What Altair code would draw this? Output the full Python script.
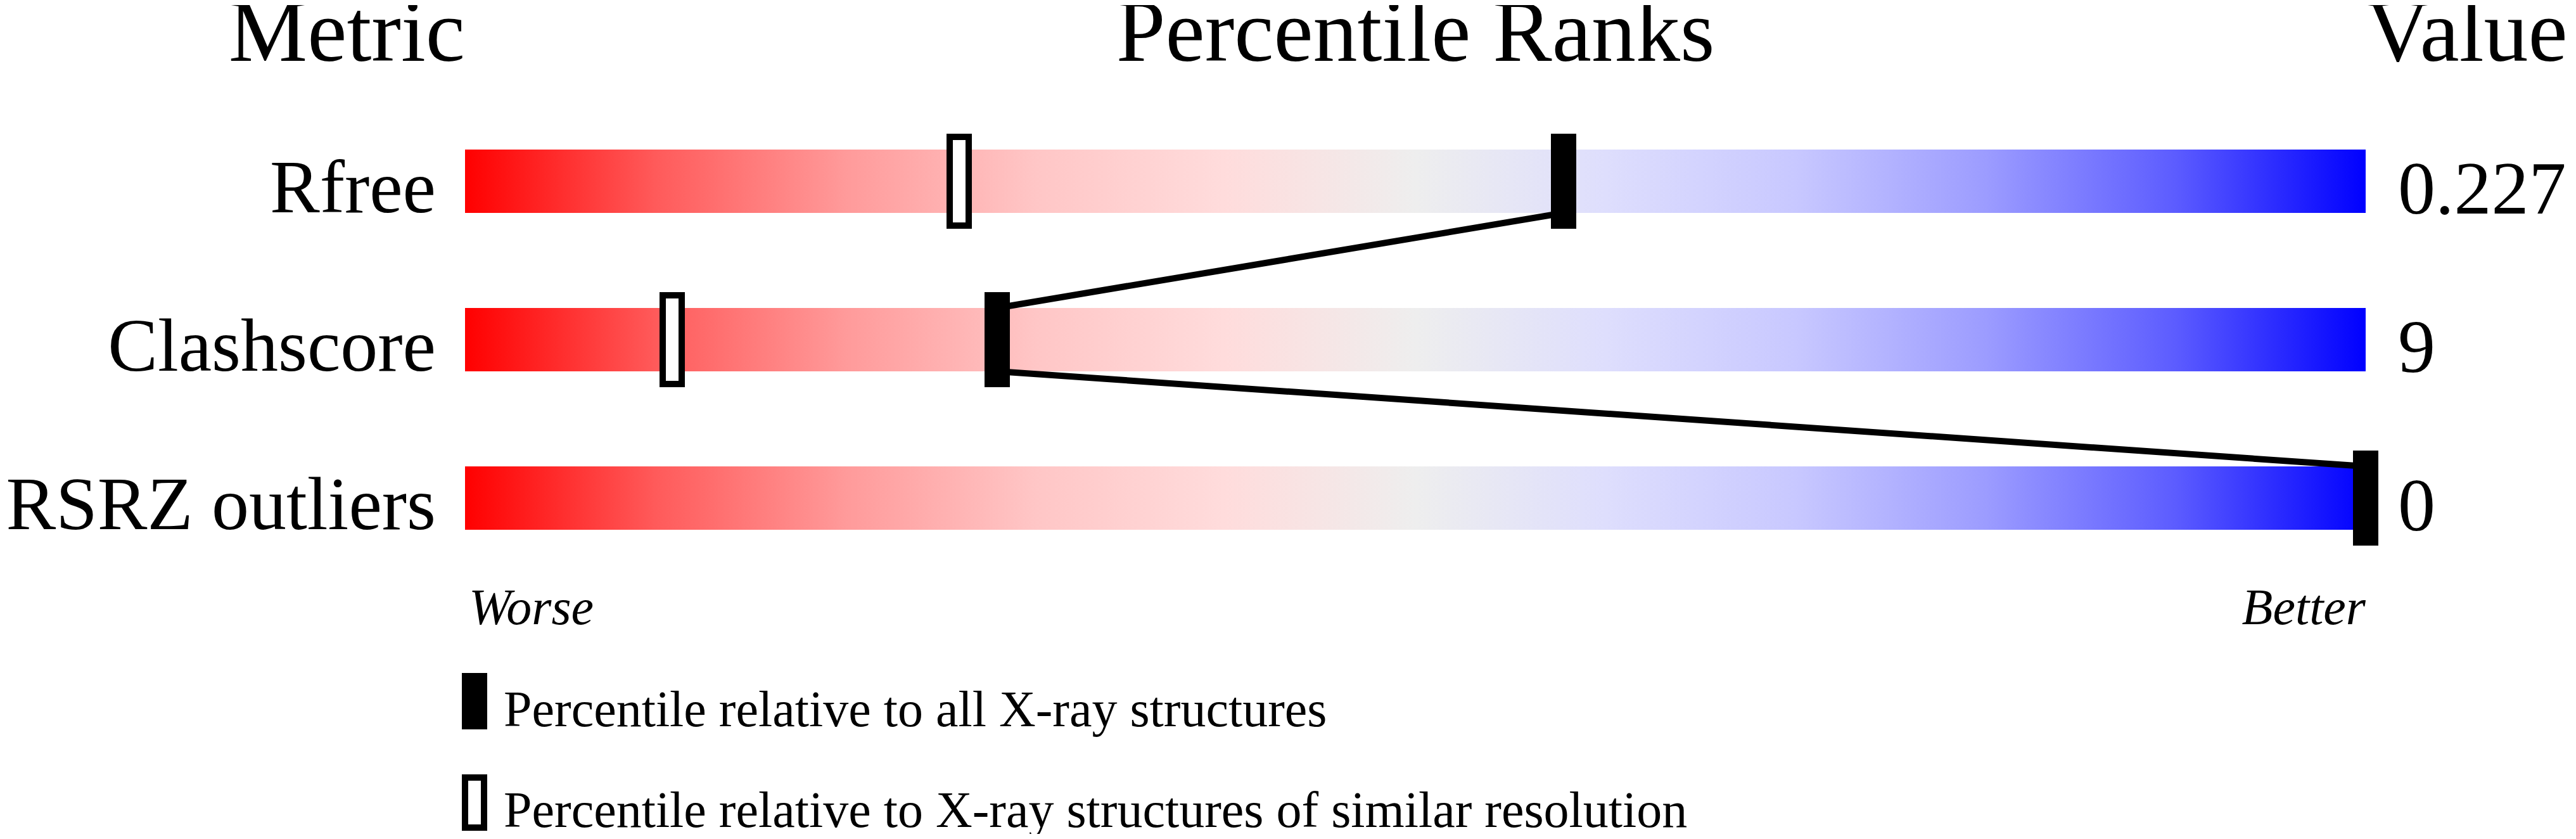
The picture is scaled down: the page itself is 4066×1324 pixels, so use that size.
import altair as alt
import pandas as pd

# ---- data ----
metrics = ["Rfree", "Clashscore", "RSRZ outliers"]
metric_values = ["0.227", "9", "0"]
pct_all = [57.8, 28.0, 100.0]          # percentile relative to all X-ray structures
pct_res = [26.0, 10.9, None]           # percentile relative to similar resolution
headers = ["Metric", "Percentile Ranks", "Value"]
end_labels = ["Worse", "Better"]
legend_labels = ["Percentile relative to all X-ray structures",
                 "Percentile relative to X-ray structures of similar resolution"]

FONT = "Liberation Serif"

rows = pd.DataFrame({
    "row": list(range(len(metrics))),
    "metric": metrics,
    "value": metric_values,
    "pct_all": pct_all,
    "pct_res": pct_res,
})
segs = pd.DataFrame({
    "row": list(range(len(metrics) - 1)),
    "xa": pct_all[:-1],
    "xb": pct_all[1:],
})

xscale = alt.Scale(domain=[0, 100], nice=False, zero=False)
yscale = alt.Scale(domain=[-0.5, len(metrics) - 0.5], nice=False, zero=False, reverse=True)

gradient = alt.LinearGradient(
    gradient="linear", x1=0, x2=1, y1=0, y2=0,
    stops=[
        alt.GradientStop(color="#ff0000", offset=0.0),
        alt.GradientStop(color="#ff5a5a", offset=0.1),
        alt.GradientStop(color="#ff9a9a", offset=0.2),
        alt.GradientStop(color="#ffc6c6", offset=0.3),
        alt.GradientStop(color="#ffdcdc", offset=0.4),
        alt.GradientStop(color="#eeeeee", offset=0.5),
        alt.GradientStop(color="#dedefd", offset=0.6),
        alt.GradientStop(color="#c8c8ff", offset=0.7),
        alt.GradientStop(color="#9c9cff", offset=0.8),
        alt.GradientStop(color="#5c5cff", offset=0.9),
        alt.GradientStop(color="#0000ff", offset=1.0),
    ],
)

base = alt.Chart(rows)

bars = base.mark_rect(color=gradient).transform_calculate(
    y0="datum.row - 0.2", y1="datum.row + 0.2"
).encode(
    x=alt.datum(0, scale=xscale, axis=None),
    x2=alt.datum(100),
    y=alt.Y("y0:Q", scale=yscale, axis=None),
    y2="y1:Q",
)

lines = alt.Chart(segs).mark_rule(color="black", strokeWidth=10).transform_calculate(
    ya="datum.row + 0.2", yb="datum.row + 0.8"
).encode(
    x=alt.X("xa:Q", scale=xscale, axis=None),
    x2="xb:Q",
    y=alt.Y("ya:Q", scale=yscale, axis=None),
    y2="yb:Q",
)

open_marks = base.transform_filter("isValid(datum.pct_res)").mark_tick(
    orient="vertical", fill="white", stroke="black", strokeWidth=10,
    size=140, thickness=30, opacity=1
).encode(
    x=alt.X("pct_res:Q", scale=xscale, axis=None),
    y=alt.Y("row:Q", scale=yscale, axis=None),
)

filled_marks = base.mark_tick(
    orient="vertical", color="black", size=150, thickness=40, opacity=1
).encode(
    x=alt.X("pct_all:Q", scale=xscale, axis=None),
    y=alt.Y("row:Q", scale=yscale, axis=None),
)

row_labels = base.mark_text(
    align="right", baseline="alphabetic", dy=49, fontSize=118, font=FONT, color="black"
).encode(
    x=alt.value(-46),
    y=alt.Y("row:Q", scale=yscale, axis=None),
    text="metric:N",
)

value_labels = base.mark_text(
    align="left", baseline="alphabetic", dx=51, dy=51, fontSize=118, font=FONT, color="black"
).encode(
    x=alt.datum(100),
    y=alt.Y("row:Q", scale=yscale, axis=None),
    text="value:N",
)

one = pd.DataFrame({"k": [0]})

h_metric = alt.Chart(one).mark_text(
    text=headers[0], align="right", baseline="alphabetic", fontSize=140, font=FONT, color="black"
).encode(x=alt.value(0), y=alt.value(-65))
h_pct = alt.Chart(one).mark_text(
    text=headers[1], align="center", baseline="alphabetic", fontSize=140, font=FONT, color="black"
).encode(x=alt.datum(50), y=alt.value(-65))
h_val = alt.Chart(one).mark_text(
    text=headers[2], align="left", baseline="alphabetic", fontSize=140, font=FONT, color="black"
).encode(x=alt.datum(100), y=alt.value(-65))

worse = alt.Chart(one).mark_text(
    text=end_labels[0], align="left", baseline="alphabetic", dx=6, fontSize=80,
    fontStyle="italic", font=FONT, color="black"
).encode(x=alt.datum(0), y=alt.value(824))
better = alt.Chart(one).mark_text(
    text=end_labels[1], align="right", baseline="alphabetic", fontSize=80,
    fontStyle="italic", font=FONT, color="black"
).encode(x=alt.datum(100), y=alt.value(824))

leg1_box = alt.Chart(one).mark_rect(color="black").encode(
    x=alt.value(-5), x2=alt.value(35), y=alt.value(901), y2=alt.value(990)
)
leg2_box = alt.Chart(one).mark_rect(fill="white", stroke="black", strokeWidth=10).encode(
    x=alt.value(0), x2=alt.value(30), y=alt.value(1066), y2=alt.value(1145)
)
leg1_txt = alt.Chart(one).mark_text(
    text=legend_labels[0], align="left", baseline="alphabetic", fontSize=80, font=FONT, color="black"
).encode(x=alt.value(61), y=alt.value(985))
leg2_txt = alt.Chart(one).mark_text(
    text=legend_labels[1], align="left", baseline="alphabetic", fontSize=80, font=FONT, color="black"
).encode(x=alt.value(61), y=alt.value(1144))

chart = alt.layer(
    bars, lines, open_marks, filled_marks, row_labels, value_labels,
    h_metric, h_pct, h_val, worse, better, leg1_box, leg2_box, leg1_txt, leg2_txt,
).properties(
    width=3000, height=750,
    autosize=alt.AutoSizeParams(type="none"),
    padding={"left": 726, "top": 153, "right": 324, "bottom": 405},
    background="white",
).configure_view(stroke=None)

chart.save("out.html", embed_options={"renderer": "svg", "actions": False})
